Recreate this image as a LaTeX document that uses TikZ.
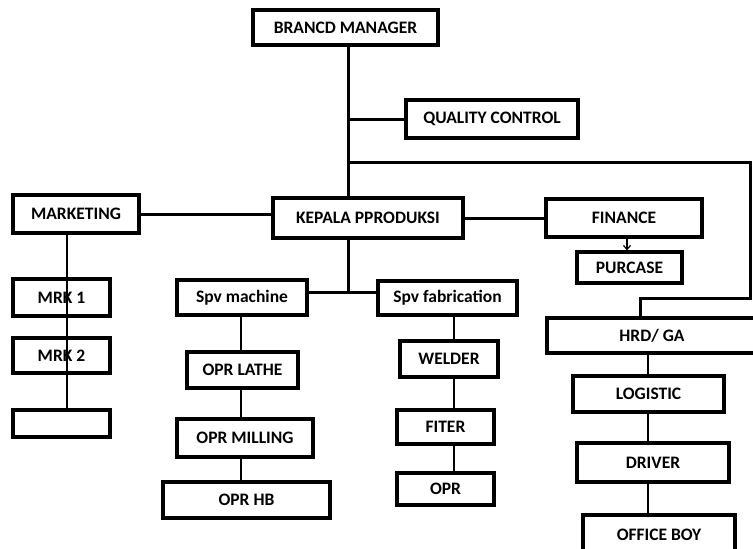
\documentclass[tikz,border=0pt]{standalone}
\usepackage{fontspec}
\setmainfont{Carlito}
\usetikzlibrary{arrows.meta}
\begin{document}
\begin{tikzpicture}[x=1pt,y=-1pt,
  box/.style={draw,line width=3.3pt,inner sep=0pt,font=\fontsize{17.5}{19}\selectfont\bfseries},
  main/.style={line width=3pt},
  thin/.style={line width=1.8pt}]
\useasboundingbox (0,0) rectangle (753,549);
\fill[white] (0,0) rectangle (753,549);
% nodes
\node[box,minimum width=185,minimum height=35] (bm) at (345.5,27.5) {BRANCD MANAGER};
\node[box,minimum width=172,minimum height=38] (qc) at (492,119) {QUALITY CONTROL};
\node[box,minimum width=190,minimum height=40] (kp) at (368,218) {KEPALA PPRODUKSI};
\node[box,minimum width=126,minimum height=38] (mkt) at (76,214) {MARKETING};
\node[box,minimum width=156,minimum height=38] (fin) at (624,218) {FINANCE};
\node[box,minimum width=105,minimum height=31] (pur) at (629.5,267.5) {PURCASE};
\node[box,minimum width=210,minimum height=35] (hrd) at (652,335.5) {HRD/ GA};
\node[box,minimum width=151,minimum height=36] (log) at (648.5,394) {LOGISTIC};
\node[box,minimum width=152,minimum height=39] (drv) at (653,462.5) {DRIVER};
\node[box,minimum width=152,minimum height=40] (ob) at (659,535) {OFFICE BOY};
\node[box,minimum width=97,minimum height=37] (mrk1) at (61.5,297.5) {MRK 1};
\node[box,minimum width=97,minimum height=35] (mrk2) at (61.5,355.5) {MRK 2};
\node[box,minimum width=97,minimum height=27] (mrk3) at (61.5,423.5) {};
\node[box,minimum width=130,minimum height=35] (spvm) at (242,297.5) {Spv machine};
\node[box,minimum width=139,minimum height=34] (spvf) at (447.5,298) {Spv fabrication};
\node[box,minimum width=111,minimum height=36] (lathe) at (242.5,370) {OPR LATHE};
\node[box,minimum width=136,minimum height=38] (mill) at (245,438) {OPR MILLING};
\node[box,minimum width=167,minimum height=36] (hb) at (246.5,500) {OPR HB};
\node[box,minimum width=98,minimum height=36] (weld) at (449,359) {WELDER};
\node[box,minimum width=97,minimum height=34] (fit) at (445.5,427) {FITER};
\node[box,minimum width=97,minimum height=32] (opr) at (445.5,489) {OPR};
% coordinates
\coordinate (t) at (348,119);
\coordinate (hr) at (750,162);
\coordinate (hj) at (640,298);
\coordinate (sj) at (348,292);
\coordinate (mx) at (67,0);
\coordinate (sx) at (241,0);
\coordinate (fx) at (454,0);
\coordinate (gx) at (648,0);
\coordinate (ax) at (627,0);
% connectors
\draw[main] (bm.south -| t) -- (kp.north -| t);
\draw[main] (t) -- (qc.west);
\draw[main] (t |- hr) -- (hr) -- (hr |- hj) -- (hj) -- (hrd.north -| hj);
\draw[main] (kp.south -| sj) -- (sj);
\draw[main] (spvm.east |- sj) -- (spvf.west |- sj);
\draw[main] (mkt.east) -- (kp.west |- mkt.east);
\draw[main] (kp.east) -- (fin.west);
\draw[line width=1.2pt,-{Straight Barb[length=4pt,width=7pt]}] (fin.south -| ax) -- (pur.north -| ax);
\draw[thin] (mkt.south -| mx) -- (mrk3.north -| mx);
\draw[thin] (spvm.south -| sx) -- (lathe.north -| sx);
\draw[thin] (lathe.south -| sx) -- (mill.north -| sx);
\draw[thin] (mill.south -| sx) -- (hb.north -| sx);
\draw[thin] (spvf.south -| fx) -- (weld.north -| fx);
\draw[thin] (weld.south -| fx) -- (fit.north -| fx);
\draw[thin] (fit.south -| fx) -- (opr.north -| fx);
\draw[thin] (hrd.south -| gx) -- (log.north -| gx);
\draw[thin] (log.south -| gx) -- (drv.north -| gx);
\draw[thin] (drv.south -| gx) -- (ob.north -| gx);
\end{tikzpicture}
\end{document}
